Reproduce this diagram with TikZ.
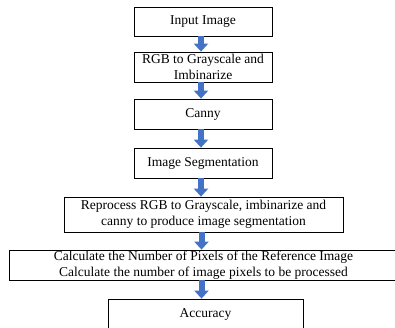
\documentclass[tikz,border=0pt]{standalone}
\usepackage{fontspec}
\setmainfont{Liberation Serif}
\usetikzlibrary{arrows.meta}
\definecolor{flowblue}{HTML}{4472C4}
\tikzset{
  stepbox/.style={draw=black, line width=0.8pt, fill=white, inner sep=0pt,
    align=center, font=\fontsize{13.5}{15.5}\selectfont, text=black},
  downarrow/.style={draw=flowblue, line width=6pt,
    -{Triangle[width=14pt,length=8pt]}},
}
\begin{document}
\begin{tikzpicture}[x=1pt,y=-1pt]
  \useasboundingbox[fill=white] (0,0) rectangle (395,327);

  \node[stepbox, minimum width=138pt, minimum height=29pt] (n1) at (203,21.5) {Input Image};
  \node[stepbox, minimum width=138pt, minimum height=30pt] (n2) at (203,67) {RGB to Grayscale and\\Imbinarize};
  \node[stepbox, minimum width=138pt, minimum height=30pt] (n3) at (203,114) {Canny};
  \node[stepbox, minimum width=138pt, minimum height=30pt] (n4) at (203,163) {Image Segmentation};
  \node[stepbox, minimum width=279pt, minimum height=35pt] (n5) at (203.5,214.5) {Reprocess RGB to Grayscale, imbinarize and\\canny to produce image segmentation};
  \node[stepbox, minimum width=389pt, minimum height=30pt] (n6) at (203.5,265) {Calculate the Number of Pixels of the Reference Image\\Calculate the number of image pixels to be processed};
  \node[stepbox, minimum width=195pt, minimum height=31pt] (n7) at (205.5,314.5) {Accuracy};

  \foreach \a/\b in {n1/n2,n2/n3,n3/n4,n4/n5,n5/n6,n6/n7}{
    \draw[downarrow] ([xshift=-2pt]\a.south) -- ([xshift=-2pt]\a.south |- \b.north);
  }
\end{tikzpicture}
\end{document}
